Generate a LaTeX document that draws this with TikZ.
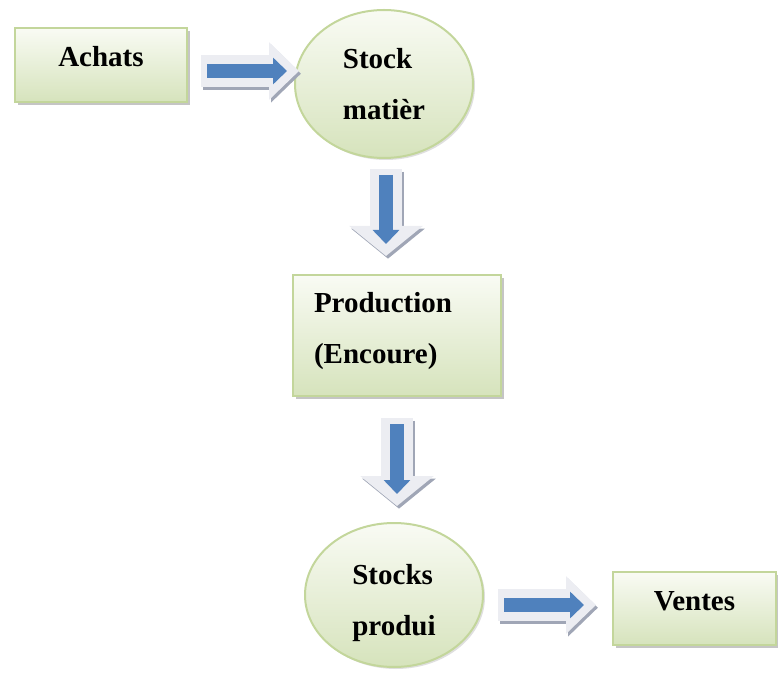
\documentclass[tikz,border=0pt]{standalone}
\usepackage{fontspec}
\setmainfont{Liberation Serif}
\usetikzlibrary{calc,shapes.geometric,shadows,arrows.meta}
\definecolor{boxtop}{RGB}{249,251,244}
\definecolor{boxgreen}{RGB}{214,227,188}
\definecolor{boxline}{RGB}{195,214,155}
\definecolor{flowblue}{RGB}{79,129,189}
\definecolor{flowlight}{RGB}{236,237,242}
\definecolor{flowdark}{RGB}{160,166,182}
\newcommand{\flowfont}{\bfseries\fontsize{21.75}{38.25}\selectfont}

\begin{document}
\begin{tikzpicture}[x=0.75pt,y=-0.75pt,
    greenbox/.style={rectangle, draw=boxline, line width=1.5pt, top color=boxtop, bottom color=boxgreen,
        drop shadow={shadow xshift=2.5pt, shadow yshift=-2.5pt, fill=black!45}, font=\flowfont},
    greenoval/.style={ellipse, inner sep=0pt, draw=boxline, line width=1.5pt, top color=boxtop, bottom color=boxgreen,
        drop shadow={shadow xshift=1.5pt, shadow yshift=-1.5pt, fill=black!25}, font=\flowfont},
    flowshade/.style={draw=flowdark, line width=24pt, -{Triangle[length=22.5pt,width=#1]},
        transform canvas={shift={(1.5pt,-2pt)}}},
    flowbody/.style={draw=flowlight, line width=24pt, -{Triangle[length=22.5pt,width=#1]}},
    flowcore/.style={draw=flowblue, line width=10.5pt, -{Triangle[length=10.5pt,width=19.5pt]},
        shorten <=4.5pt, shorten >=9pt}]
    \useasboundingbox (0,0) rectangle (778,673);

    \node[greenbox, minimum width=129pt, minimum height=55.5pt, text height=14.7pt, text depth=11.7pt] (achats) at (101,65) {Achats};
    \node[greenoval, minimum width=133.5pt, minimum height=111pt, align=left] (stockm) at (384,84) {Stock\\matièr};
    \node[greenbox, minimum width=156pt, minimum height=90.75pt, text width=124.5pt, align=left, text height=14.7pt, text depth=48.5pt] (prod) at (397,335.5) {Production\\(Encoure)};
    \node[greenoval, minimum width=133.5pt, minimum height=108pt, align=left, text height=64.7pt] (stocksp) at (394,595) {Stocks\\produi};
    \node[greenbox, minimum width=122.25pt, minimum height=54.75pt, text height=14.7pt, text depth=12pt] (ventes) at (694.5,608.5) {Ventes};

    \coordinate (a1s) at ($(achats.east)+(13,6)$);
    \coordinate (a1e) at ($(stockm.west)+(5,-13)$);
    \coordinate (a2s) at ($(stockm.south)+(2,10)$);
    \coordinate (a2e) at ($(prod.north)+(-11,-18)$);
    \coordinate (a3s) at ($(prod.south)+(0,21)$);
    \coordinate (a3e) at ($(stocksp.north)+(3,-16)$);
    \coordinate (a4s) at ($(stocksp.east)+(14,10)$);
    \coordinate (a4e) at ($(ventes.west)+(-16,-3.5)$);

    \draw[flowshade=42pt] (a1s) -- (a1e);
    \draw[flowbody=42pt] (a1s) -- (a1e);
    \draw[flowcore] (a1s) -- (a1e);
    \draw[flowshade=54pt] (a2s) -- (a2e);
    \draw[flowbody=54pt] (a2s) -- (a2e);
    \draw[flowcore] (a2s) -- (a2e);
    \draw[flowshade=54pt] (a3s) -- (a3e);
    \draw[flowbody=54pt] (a3s) -- (a3e);
    \draw[flowcore] (a3s) -- (a3e);
    \draw[flowshade=42pt] (a4s) -- (a4e);
    \draw[flowbody=42pt] (a4s) -- (a4e);
    \draw[flowcore] (a4s) -- (a4e);
\end{tikzpicture}
\end{document}
